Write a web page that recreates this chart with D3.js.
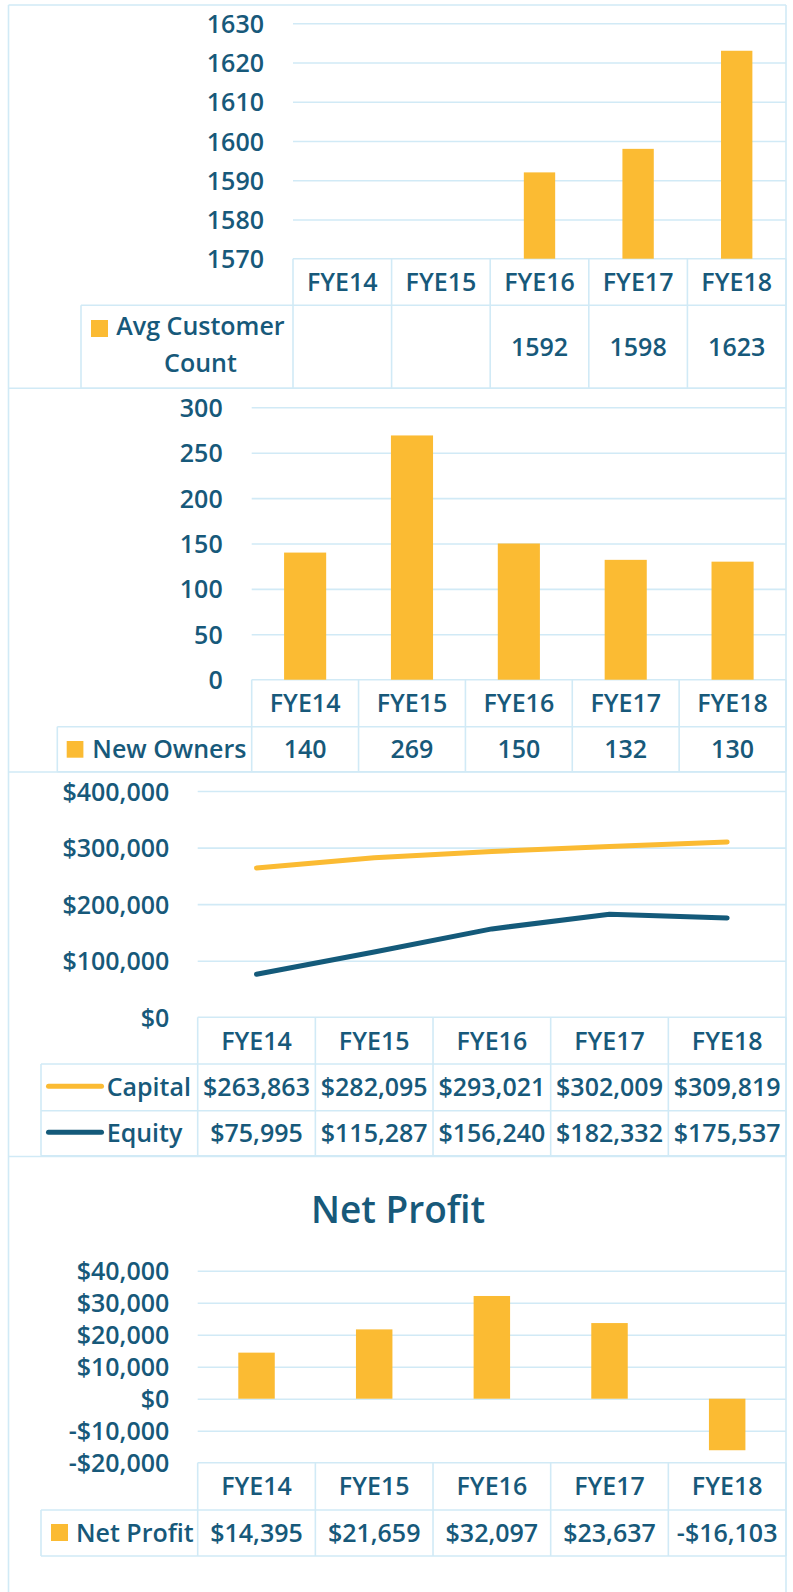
<!DOCTYPE html>
<html>
<head>
<meta charset="utf-8">
<script src="https://cdn.jsdelivr.net/npm/d3@7"></script>
<style>
  html, body { margin: 0; padding: 0; background: #ffffff; }
  svg { display: block; }
  text { font-family: "Open Sans", "DejaVu Sans", sans-serif; font-weight: 600; fill: #17597a; }
</style>
</head>
<body>
<svg id="chart" width="793" height="1592"></svg>
<script>
// ---------- DATA ----------
const years = ["FYE14", "FYE15", "FYE16", "FYE17", "FYE18"];
const avgCustomerCount = [null, null, 1592, 1598, 1623];
const newOwners = [140, 269, 150, 132, 130];
const capital = [263863, 282095, 293021, 302009, 309819];
const equity = [75995, 115287, 156240, 182332, 175537];
const netProfit = [14395, 21659, 32097, 23637, -16103];

const customerTicks = [1570, 1580, 1590, 1600, 1610, 1620, 1630];
const ownerTicks = [0, 50, 100, 150, 200, 250, 300];
const moneyTicks = [0, 100000, 200000, 300000, 400000];
const profitTicks = [-20000, -10000, 0, 10000, 20000, 30000, 40000];

const seriesNames = { customers: ["Avg Customer", "Count"], owners: "New Owners", capital: "Capital", equity: "Equity", profit: "Net Profit" };
const titleProfit = "Net Profit";

// ---------- STYLE ----------
const GOLD = "#fbbb33";
const TEAL = "#145a7a";
const GRID = "#d1eaf6";
const GW = 1.6;
const FS = 25;
const RIGHT = 786;
const LEFT = 8.5;

const svg = d3.select("#chart");
const money = d3.format("$,");
const fmtMoney = v => v < 0 ? "-" + money(-v) : money(v);

function hline(g, x1, x2, y) {
  g.append("line").attr("x1", x1).attr("x2", x2).attr("y1", y).attr("y2", y)
    .attr("stroke", GRID).attr("stroke-width", GW);
}
function vline(g, x, y1, y2) {
  g.append("line").attr("x1", x).attr("x2", x).attr("y1", y1).attr("y2", y2)
    .attr("stroke", GRID).attr("stroke-width", GW);
}

// outer frame
const frame = svg.append("g");
hline(frame, LEFT, RIGHT, 5);
vline(frame, LEFT, 5, 1592);
vline(frame, RIGHT, 5, 1592);
hline(frame, LEFT, RIGHT, 388.3);
hline(frame, LEFT, RIGHT, 772);
hline(frame, LEFT, RIGHT, 1156.5);

// generic panel builder
function panel(cfg) {
  const g = svg.append("g");
  const x = d3.scaleBand().domain(years).range([cfg.x0, RIGHT]).padding(0);
  const y = d3.scaleLinear().domain(d3.extent(cfg.ticks)).range([cfg.yBottom, cfg.yTop]);

  // gridlines (skip bottom tick — that is the table's top border)
  const grid = g.append("g").attr("transform", `translate(${cfg.x0},0)`)
    .call(d3.axisLeft(y).tickValues(cfg.ticks.slice(1)).tickSize(-(RIGHT - cfg.x0)).tickFormat(""));
  grid.select(".domain").remove();
  grid.selectAll(".tick line").attr("stroke", GRID).attr("stroke-width", GW);

  // y labels
  const ax = g.append("g").attr("transform", `translate(${cfg.labelX},0)`)
    .call(d3.axisLeft(y).tickValues(cfg.ticks).tickSize(0).tickPadding(0).tickFormat(cfg.fmt));
  ax.select(".domain").remove();
  ax.selectAll("text").attr("font-size", FS).attr("font-family", null).attr("fill", null).attr("dy", "0.36em");

  // table
  const rows = cfg.rows;
  const tableBottom = rows[rows.length - 1];
  hline(g, cfg.x0, RIGHT, cfg.yBottom);
  hline(g, cfg.legendX, RIGHT, cfg.headerBottom);
  rows.forEach(r => hline(g, cfg.legendX, RIGHT, r));
  years.forEach(d => vline(g, x(d), cfg.yBottom, tableBottom));
  vline(g, RIGHT, cfg.yBottom, tableBottom);
  vline(g, cfg.legendX, cfg.headerBottom, tableBottom);

  // header labels
  g.selectAll("text.hdr").data(years).join("text").attr("class", "hdr")
    .attr("x", d => x(d) + x.bandwidth() / 2)
    .attr("y", (cfg.yBottom + cfg.headerBottom) / 2)
    .attr("dy", "0.36em").attr("text-anchor", "middle").attr("font-size", FS)
    .text(d => d);

  return { g, x, y };
}

// ---------- PANEL 1 : Avg Customer Count ----------
{
  const cfg = { x0: 293, yTop: 23.3, yBottom: 258.7, headerBottom: 305.3, rows: [388.3], legendX: 81,
    labelX: 264, ticks: customerTicks, fmt: d3.format("d") };
  const { g, x, y } = panel(cfg);
  const bw = x.bandwidth() * 0.318;
  const data = years.map((d, i) => ({ d, v: avgCustomerCount[i] })).filter(o => o.v != null);
  g.selectAll("rect.bar").data(data).join("rect").attr("class", "bar")
    .attr("x", o => x(o.d) + (x.bandwidth() - bw) / 2).attr("width", bw)
    .attr("y", o => y(o.v)).attr("height", o => y(customerTicks[0]) - y(o.v))
    .attr("fill", GOLD);
  const rowMid = (cfg.headerBottom + 388.3) / 2;
  g.selectAll("text.val").data(data)
    .join("text").attr("class", "val")
    .attr("x", o => x(o.d) + x.bandwidth() / 2).attr("y", rowMid).attr("dy", "0.36em")
    .attr("text-anchor", "middle").attr("font-size", FS).text(o => o.v);
  g.append("rect").attr("x", 91).attr("y", 320).attr("width", 17).attr("height", 17).attr("fill", GOLD);
  g.append("text").attr("x", 200.5).attr("y", 335).attr("text-anchor", "middle").attr("font-size", FS).text(seriesNames.customers[0]);
  g.append("text").attr("x", 200.5).attr("y", 371.5).attr("text-anchor", "middle").attr("font-size", FS).text(seriesNames.customers[1]);
}

// ---------- PANEL 2 : New Owners ----------
{
  const cfg = { x0: 251.7, yTop: 407.3, yBottom: 679.7, headerBottom: 726.7, rows: [771.7], legendX: 57.3,
    labelX: 222.7, ticks: ownerTicks, fmt: d3.format("d") };
  const { g, x, y } = panel(cfg);
  const bw = x.bandwidth() * 0.394;
  g.selectAll("rect.bar").data(newOwners).join("rect").attr("class", "bar")
    .attr("x", (v, i) => x(years[i]) + (x.bandwidth() - bw) / 2).attr("width", bw)
    .attr("y", v => y(v)).attr("height", v => y(0) - y(v)).attr("fill", GOLD);
  const rowMid = (cfg.headerBottom + 771.7) / 2;
  g.selectAll("text.val").data(newOwners).join("text").attr("class", "val")
    .attr("x", (v, i) => x(years[i]) + x.bandwidth() / 2).attr("y", rowMid).attr("dy", "0.36em")
    .attr("text-anchor", "middle").attr("font-size", FS).text(v => v);
  g.append("rect").attr("x", 66.7).attr("y", 741).attr("width", 16.7).attr("height", 16.7).attr("fill", GOLD);
  g.append("text").attr("x", 92.3).attr("y", rowMid).attr("dy", "0.36em").attr("font-size", FS).text(seriesNames.owners);
}

// ---------- PANEL 3 : Capital & Equity ----------
{
  const cfg = { x0: 197.7, yTop: 791, yBottom: 1017.3, headerBottom: 1064, rows: [1110.7, 1155.7], legendX: 41,
    labelX: 169.3, ticks: moneyTicks, fmt: fmtMoney };
  const { g, x, y } = panel(cfg);
  const line = d3.line().x((v, i) => x(years[i]) + x.bandwidth() / 2).y(v => y(v));
  [[capital, GOLD], [equity, TEAL]].forEach(([s, c]) => {
    g.append("path").datum(s).attr("d", line).attr("fill", "none").attr("stroke", c)
      .attr("stroke-width", 5).attr("stroke-linecap", "round").attr("stroke-linejoin", "round");
  });
  const mids = [(1064 + 1110.7) / 2, (1110.7 + 1155.7) / 2];
  [[capital, GOLD, seriesNames.capital], [equity, TEAL, seriesNames.equity]].forEach(([s, c, name], r) => {
    g.selectAll(null).data(s).join("text")
      .attr("x", (v, i) => x(years[i]) + x.bandwidth() / 2).attr("y", mids[r]).attr("dy", "0.36em")
      .attr("text-anchor", "middle").attr("font-size", FS).text(v => fmtMoney(v));
    g.append("line").attr("x1", 48.5).attr("x2", 101.5).attr("y1", mids[r] - 1).attr("y2", mids[r] - 1)
      .attr("stroke", c).attr("stroke-width", 5).attr("stroke-linecap", "round");
    g.append("text").attr("x", 106.7).attr("y", mids[r]).attr("dy", "0.36em").attr("font-size", FS).text(name);
  });
}

// ---------- PANEL 4 : Net Profit ----------
{
  svg.append("text").attr("x", 398).attr("y", 1222.7).attr("text-anchor", "middle")
    .attr("font-size", 37).text(titleProfit);
  const cfg = { x0: 197.7, yTop: 1270.7, yBottom: 1462.7, headerBottom: 1510, rows: [1556], legendX: 41,
    labelX: 169.3, ticks: profitTicks, fmt: fmtMoney };
  const { g, x, y } = panel(cfg);
  const bw = x.bandwidth() * 0.31;
  g.selectAll("rect.bar").data(netProfit).join("rect").attr("class", "bar")
    .attr("x", (v, i) => x(years[i]) + (x.bandwidth() - bw) / 2).attr("width", bw)
    .attr("y", v => Math.min(y(v), y(0))).attr("height", v => Math.abs(y(0) - y(v))).attr("fill", GOLD);
  const rowMid = (1510 + 1556) / 2;
  g.selectAll("text.val").data(netProfit).join("text").attr("class", "val")
    .attr("x", (v, i) => x(years[i]) + x.bandwidth() / 2).attr("y", rowMid).attr("dy", "0.36em")
    .attr("text-anchor", "middle").attr("font-size", FS).text(v => fmtMoney(v));
  g.append("rect").attr("x", 51).attr("y", 1524).attr("width", 17).attr("height", 17).attr("fill", GOLD);
  g.append("text").attr("x", 76).attr("y", rowMid).attr("dy", "0.36em").attr("font-size", FS).text(seriesNames.profit);
}
</script>
</body>
</html>
